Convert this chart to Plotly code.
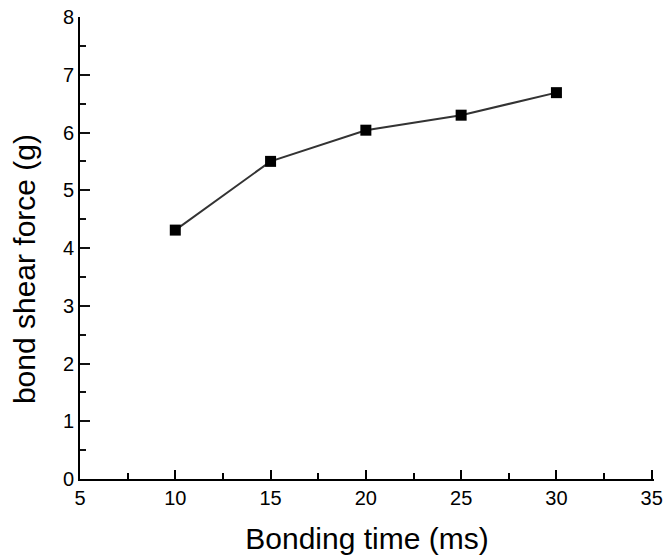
import plotly.graph_objects as go

bonding_time = [10, 15, 20, 25, 30]
shear_force = [4.31, 5.50, 6.04, 6.30, 6.69]

# small extension beyond 35 so the end tick is not clipped
x_range = [5, 35.12]
y_range = [0, 8]

fig = go.Figure()
fig.add_trace(go.Scatter(
    x=bonding_time, y=shear_force, mode="lines+markers",
    line=dict(color="#333333", width=2),
    marker=dict(symbol="square", size=11, color="black"),
    showlegend=False,
))

font_family = "Liberation Sans, Arial, sans-serif"
fig.update_layout(
    width=663, height=560,
    margin=dict(l=80, r=9, t=17, b=81),
    paper_bgcolor="white", plot_bgcolor="white",
    font=dict(family=font_family, color="black"),
    xaxis=dict(
        range=x_range, tickmode="linear", tick0=5, dtick=5,
        showgrid=False, zeroline=False, showline=True, linecolor="black", linewidth=2,
        ticks="inside", ticklen=9, tickwidth=2, tickcolor="black",
        minor=dict(tick0=7.5, dtick=2.5, ticks="inside", ticklen=6, tickwidth=2, tickcolor="black"),
        tickfont=dict(size=20, family=font_family),
        title=dict(text="Bonding time (ms)", font=dict(size=30, family=font_family), standoff=20),
        automargin=False,
    ),
    yaxis=dict(
        range=y_range, tickmode="linear", tick0=0, dtick=1,
        showgrid=False, zeroline=False, showline=True, linecolor="black", linewidth=2,
        ticks="inside", ticklen=10, tickwidth=2, tickcolor="#111111",
        minor=dict(tick0=0, dtick=0.5, ticks="inside", ticklen=6, tickwidth=2, tickcolor="#111111"),
        tickfont=dict(size=20, family=font_family),
        automargin=False,
    ),
    annotations=[dict(
        text="bond shear force (g)", textangle=-90, showarrow=False,
        xref="paper", yref="paper", x=-0.097, y=0.455, xanchor="center", yanchor="middle",
        font=dict(size=30, family=font_family, color="black"),
    )],
)

fig.write_html("out.html")
